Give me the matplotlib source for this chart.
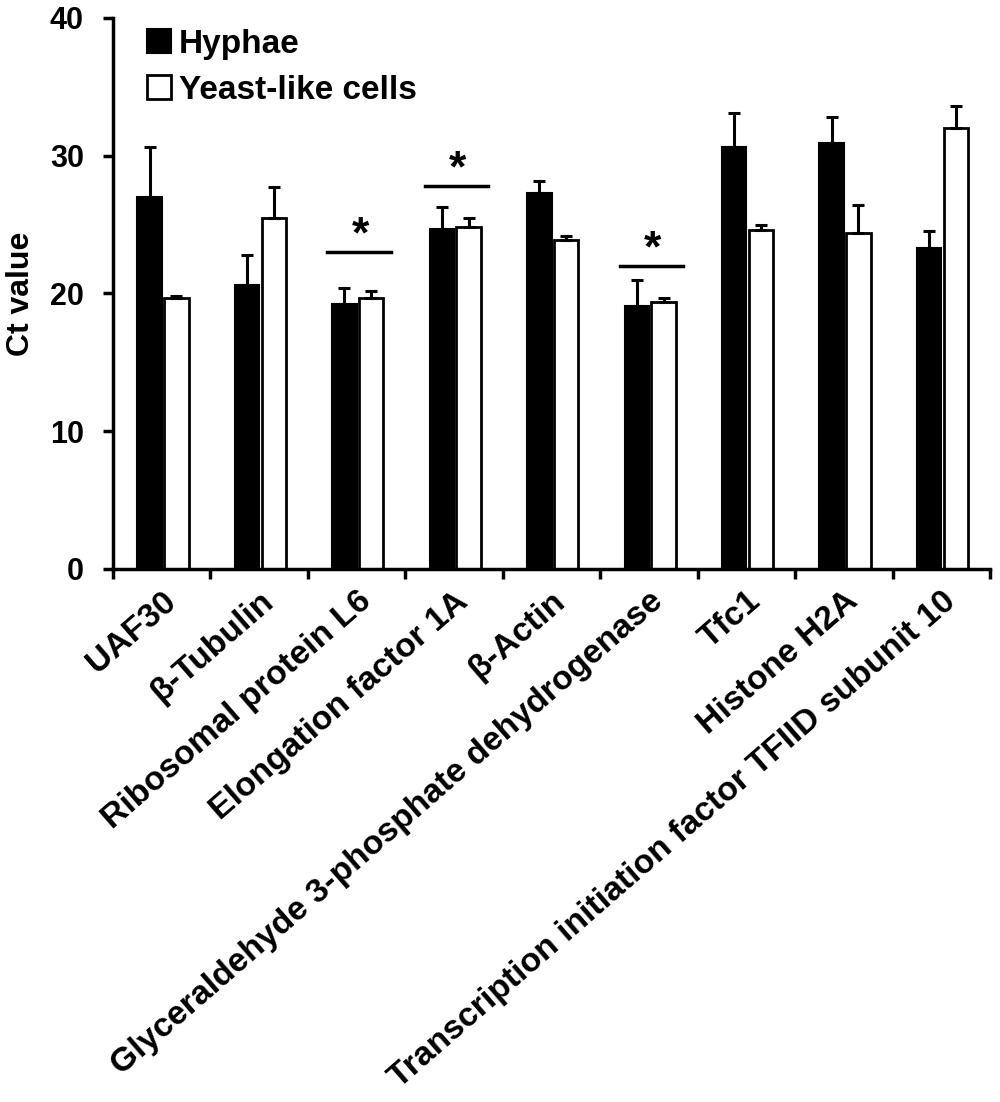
import numpy as np
import matplotlib
matplotlib.use('Agg')
import matplotlib.pyplot as plt

plt.rcParams['font.family'] = ['Liberation Sans', 'DejaVu Sans']
plt.rcParams['font.weight'] = 'bold'

genes = ['UAF30', 'β-Tubulin', 'Ribosomal protein L6', 'Elongation factor 1A',
         'β-Actin', 'Glyceraldehyde 3-phosphate dehydrogenase', 'Tfc1',
         'Histone H2A', 'Transcription initiation factor TFIID subunit 10']
hyphae = [27.0, 20.6, 19.2, 24.7, 27.3, 19.1, 30.6, 30.9, 23.3]
hyphae_err = [3.6, 2.2, 1.2, 1.6, 0.9, 1.9, 2.5, 1.9, 1.2]
yeast = [19.7, 25.5, 19.7, 24.85, 23.9, 19.4, 24.6, 24.4, 32.0]
yeast_err = [0.15, 2.2, 0.5, 0.65, 0.25, 0.3, 0.4, 2.0, 1.6]
sig_idx = [2, 3, 5]
sig_y = [23.0, 27.8, 22.0]

fig = plt.figure(figsize=(10, 11.02), dpi=100)
ax = fig.add_axes([0.113, 0.4837, 0.877, 0.5])

x = np.arange(len(genes))
w = 0.25
ekw = dict(elinewidth=2.2, capthick=2.2, ecolor='black')
ax.bar(x - 0.125, hyphae, w, color='black', edgecolor='black', linewidth=1.5,
       yerr=[np.zeros(len(x)), hyphae_err], capsize=4, error_kw=ekw, label='Hyphae')
ax.bar(x + 0.15, yeast, w, color='white', edgecolor='black', linewidth=2,
       yerr=[np.zeros(len(x)), yeast_err], capsize=4, error_kw=ekw, label='Yeast-like cells')

# significance bars
for i, yy in zip(sig_idx, sig_y):
    ax.plot([i - 0.3, i + 0.35], [yy, yy], color='black', lw=2.5)
    ax.text(i + 0.04, yy - 0.3, '*', ha='center', va='bottom', fontsize=32, fontweight='bold')

ax.set_xlim(-0.5, len(genes) - 0.5)
ax.set_ylim(0, 40)
ax.set_yticks([0, 10, 20, 30, 40])
ax.set_ylabel('Ct value', fontsize=23, fontweight='bold', labelpad=10)
ax.set_xticks(x)
ax.set_xticklabels(genes, rotation=41, ha='right', rotation_mode='anchor', fontsize=24.3)
ax.set_xticks(np.arange(-0.5, len(genes)), minor=True)
ax.tick_params(axis='x', which='major', length=0, pad=12)
ax.tick_params(axis='x', which='minor', length=7, width=2.5, direction='out')
ax.tick_params(axis='y', length=7, width=2.5, direction='out', labelsize=22, pad=14)

for s in ['top', 'right']:
    ax.spines[s].set_visible(False)
for s in ['left', 'bottom']:
    ax.spines[s].set_linewidth(2.5)

ax.legend(loc='upper left', bbox_to_anchor=(0.005, 1.035), frameon=False, fontsize=24,
          handlelength=0.7, handleheight=0.7, handletextpad=0.25, labelspacing=0.45)

plt.savefig('out.png', dpi=100)
